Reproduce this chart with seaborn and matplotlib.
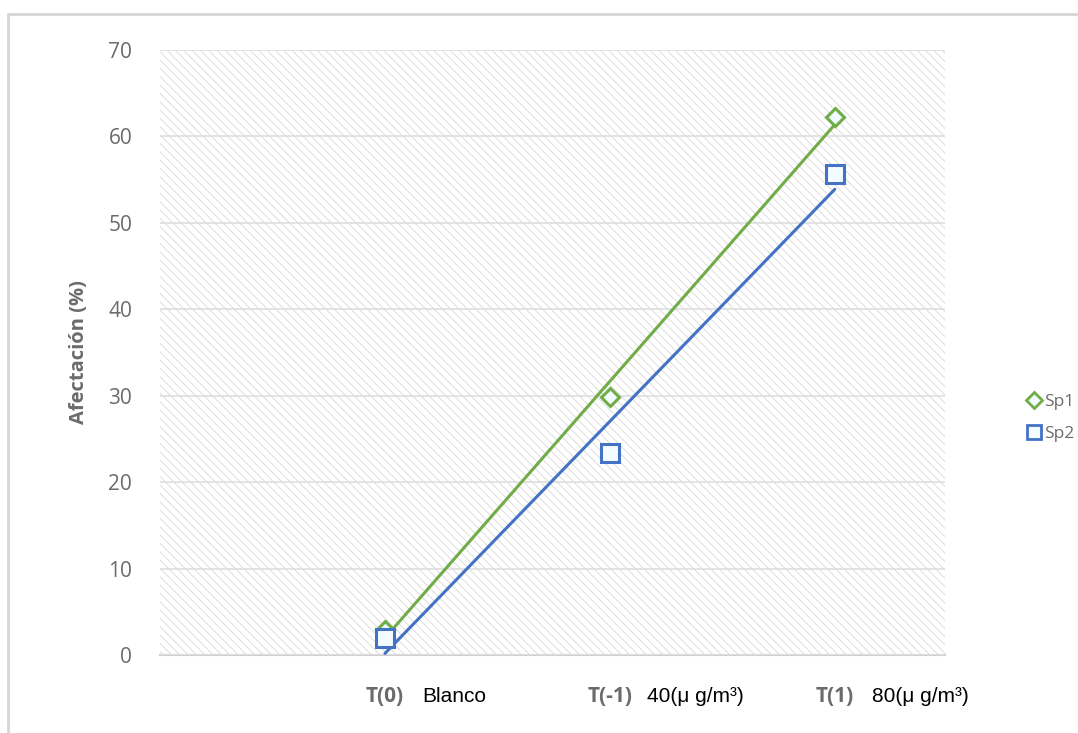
import numpy as np
import pandas as pd
import matplotlib
matplotlib.use("Agg")
import matplotlib.pyplot as plt
from matplotlib.patches import Rectangle
from matplotlib.lines import Line2D
import seaborn as sns

# Treatments and measured damage (%) per species
treatments = ["T(0)", "T(-1)", "T(1)"]
doses = ["Blanco", "40(\u03bc g/m\u00b3)", "80(\u03bc g/m\u00b3)"]
sp1 = [2.9, 29.8, 62.3]
sp2 = [2.0, 23.4, 55.7]
y_ticks = [0, 10, 20, 30, 40, 50, 60, 70]

green = "#70AD47"
blue = "#4472C4"
gray_txt = "#6b6b6b"

sns.set_theme(style="white")
plt.rcParams["font.family"] = ["Open Sans", "DejaVu Sans"]
plt.rcParams["hatch.linewidth"] = 0.6

pos = np.arange(len(treatments))
df = pd.DataFrame({
    "pos": np.concatenate([pos, pos]),
    "value": sp1 + sp2,
    "serie": ["Sp1"] * len(sp1) + ["Sp2"] * len(sp2),
})

fig = plt.figure(figsize=(10.78, 7.33), dpi=100)
ax = fig.add_axes([160 / 1078, 1 - 655 / 733, 785 / 1078, 605 / 733])

# hatched plot area
ax.add_patch(Rectangle((0, 0), 1, 1, transform=ax.transAxes, facecolor="white",
                       edgecolor="#d8d8d8", hatch="\\\\\\\\", linewidth=0, zorder=0))

for s, col, mk, ms in [("Sp1", green, "D", 9), ("Sp2", blue, "s", 13)]:
    sub = df[df["serie"] == s]
    sns.regplot(data=sub, x="pos", y="value", ax=ax, ci=None, scatter=False,
                line_kws={"color": col, "lw": 2.2, "zorder": 3})
    ax.plot(sub["pos"], sub["value"], linestyle="none", marker=mk, markersize=ms,
            markerfacecolor="#f2fbff", markeredgecolor=col, markeredgewidth=2.2, zorder=4)

ax.set_xlim(-1, 2.49)
ax.set_ylim(0, 70)
ax.set_yticks(y_ticks)
ax.yaxis.grid(True, color="#dedede", lw=1.2)
ax.set_axisbelow(False)
for g in ax.get_ygridlines():
    g.set_zorder(1)
for sp in ["top", "right", "left"]:
    ax.spines[sp].set_visible(False)
ax.spines["bottom"].set_color("#d0d0d0")
ax.spines["bottom"].set_linewidth(1.5)

ax.tick_params(axis="y", length=0, pad=20, labelsize=15, labelcolor=gray_txt)
ax.set_xticks(pos)
ax.set_xticklabels(treatments, fontsize=15, fontweight="bold", color=gray_txt)
ax.tick_params(axis="x", length=0, pad=22)
ax.set_xlabel("")
ax.set_ylabel("Afectación (%)", fontsize=14.5, fontweight="bold", color=gray_txt, labelpad=14)

# dose annotations beside each treatment label
for p, d in zip(pos, doses):
    ax.annotate(d, xy=(p, 0), xycoords=("data", "axes fraction"),
                xytext=(27, -30), textcoords="offset points",
                ha="left", va="center", fontsize=15, color="black",
                family=["Liberation Sans", "DejaVu Sans"])

handles = [
    Line2D([], [], linestyle="none", marker="D", markersize=8, markerfacecolor="#f2fbff",
           markeredgecolor=green, markeredgewidth=2),
    Line2D([], [], linestyle="none", marker="s", markersize=10, markerfacecolor="#f2fbff",
           markeredgecolor=blue, markeredgewidth=2),
]
fig.legend(handles, ["Sp1", "Sp2"], loc="center left", bbox_to_anchor=(1028 / 1078, 1 - 418 / 733),
           frameon=False, fontsize=12.5, labelcolor=gray_txt, handlelength=0.7,
           handletextpad=0.25, borderpad=0, borderaxespad=0, labelspacing=0.9)

# chart frame
fig.add_artist(Line2D([8 / 1078, 1], [1 - 14 / 733, 1 - 14 / 733], color="#d6d6d6", lw=2))
fig.add_artist(Line2D([8 / 1078, 8 / 1078], [0, 1 - 14 / 733], color="#d6d6d6", lw=2))

fig.savefig("out.png", dpi=100, facecolor="white")
